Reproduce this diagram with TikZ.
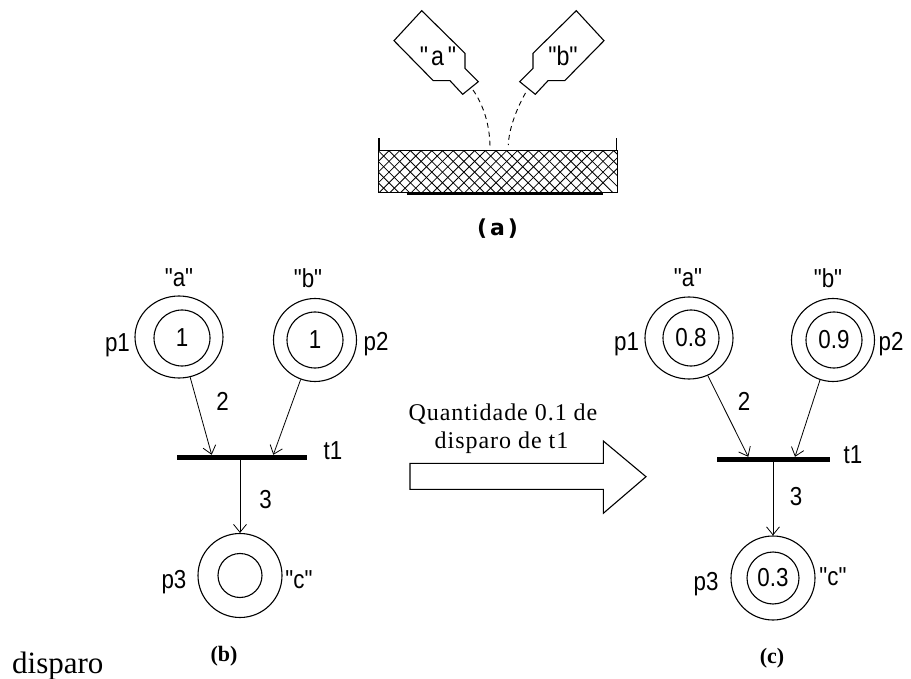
\documentclass[tikz,border=0pt]{standalone}
\usepackage{fontspec}
\setmainfont{Liberation Serif}
\newfontfamily\lbl[FakeStretch=0.86]{Liberation Sans}
\newfontfamily\capafont{DejaVu Sans}
\newfontfamily\serifls[LetterSpace=4]{Liberation Serif}
\usetikzlibrary{arrows.meta,shapes.geometric}
\begin{document}
\begin{tikzpicture}[x=1pt,y=-1pt,
  placebox/.style={circle, draw, line width=1.1pt, minimum size=83pt, inner sep=0pt},
  ovalbox/.style={ellipse, draw, line width=1.1pt, minimum width=88pt, minimum height=82pt, inner sep=0pt},
  tokbox/.style={circle, draw, line width=1.1pt, minimum size=56pt, inner sep=0pt, font=\lbl\fontsize{26}{28}\selectfont},
  barbox/.style={fill=black, draw=none, minimum height=5pt, inner sep=0pt},
  labtxt/.style={font=\lbl\fontsize{26}{28}\selectfont, inner sep=0pt, anchor=base},
  btltxt/.style={font=\lbl\fontsize{27}{29}\selectfont, inner sep=0pt, anchor=base},
  captxt/.style={font=\bfseries\fontsize{22}{24}\selectfont, inner sep=0pt, anchor=base},
  petriarc/.style={-{Straight Barb[length=8pt,width=13pt]}, line width=0.8pt},
  strokeout/.style={line width=1.1pt, line join=miter}
]
\useasboundingbox (0,0) rectangle (911,679);

% ---------------- (a) bottles and basin ----------------
\draw[strokeout] (421.7,10.7) -- (458.3,46.7) -- (465,53.3) -- (465,68.3) -- (478.3,81.7)
  -- (462.7,94.3) -- (450,80.7) -- (433.3,80.7) -- (394,40.7) -- cycle;
\draw[strokeout] (576.3,10.7) -- (539.7,46.7) -- (533,53.3) -- (533,68.3) -- (519.7,81.7)
  -- (535.3,94.3) -- (548,80.7) -- (564.7,80.7) -- (604,40.7) -- cycle;
\node[btltxt] (bla) at (438,66) {"\kern3pt a\kern4pt"};
\node[btltxt] (blb) at (563,66) {"b"};
\draw[dash pattern=on 5pt off 4pt, line width=0.9pt] (473,90) .. controls (484,106) and (490,126) .. (490,148);
\draw[dash pattern=on 5pt off 4pt, line width=0.9pt] (525.5,93) .. controls (517,108) and (509,128) .. (508.3,145);
\begin{scope}
  \clip (378.3,150.7) rectangle (617.3,192.7);
  \foreach \i in {-5,...,24} {
    \draw[line width=0.8pt] (378.3+\i*10.7,150.7) -- ++(42,42);
    \draw[line width=0.8pt] (378.3+\i*10.7,150.7) -- ++(-42,42);
  }
\end{scope}
\draw[strokeout] (378.3,150.7) rectangle (617.3,192.7);
\draw[line width=1.1pt] (379,150.7) -- (379,138);
\draw[line width=1.1pt] (616.6,150.7) -- (616.6,138);
\draw[line width=2.4pt] (406.7,194) -- (603.3,194);
\node[font=\capafont\bfseries\fontsize{22}{24}\selectfont, inner sep=0pt, anchor=base] (capa) at (497.5,236) {(\kern3pt a\kern3pt)};

% ---------------- (b) ----------------
\node[ovalbox] (p1b) at (179,337) {};
\node[tokbox] (p1bi) at (182,338) {1};
\node[placebox] (p2b) at (315,340) {};
\node[tokbox] (p2bi) at (p2b) {1};
\node[barbox, minimum width=129.4pt] (t1b) at (242,457.3) {};
\node[placebox, minimum size=84pt] (p3b) at (240,575.5) {};
\node[tokbox, minimum size=44pt] (p3bi) at (p3b) {};
\coordinate (e1b) at (211.7,454.8);
\coordinate (e2b) at (273.3,454.8);
\draw[petriarc] (p1b) -- (e1b);
\draw[petriarc] (p2b) -- (e2b);
\draw[petriarc] (p3b.north |- t1b.south) -- (p3b.north);
\node[labtxt] (la1b) at (179,287) {"a"};
\node[labtxt] (la2b) at (308,288) {"b"};
\node[labtxt] (lp1b) at (117.5,351.5) {p1};
\node[labtxt] (lp2b) at (376,351) {p2};
\node[labtxt] (lt1b) at (333,459) {t1};
\node[labtxt] (lw1b) at (222.5,410) {2};
\node[labtxt] (lw3b) at (265.5,508) {3};
\node[labtxt] (lp3b) at (174,588) {p3};
\node[labtxt] (lcb) at (299,588) {"c"};
\node[captxt] (capb) at (224,661) {(b)};

% ---------------- arrow ----------------
\draw[strokeout] (410,463.3) -- (603.3,463.3) -- (603.3,441) -- (646,476.7) -- (603.3,513.3)
  -- (603.3,489.3) -- (410,489.3) -- cycle;
\node[font=\serifls\fontsize{24}{27}\selectfont, inner sep=0pt, anchor=base] (q1) at (503,420.5) {Quantidade 0.1 de};
\node[font=\serifls\fontsize{24}{27}\selectfont, inner sep=0pt, anchor=base] (q2) at (501.5,448) {disparo de t1};

% ---------------- (c) ----------------
\node[ovalbox] (p1c) at (689,338) {};
\node[tokbox] (p1ci) at (691,338) {0.8};
\node[placebox] (p2c) at (833,340) {};
\node[tokbox] (p2ci) at (834,340) {0.9};
\node[barbox, minimum width=113.3pt] (t1c) at (773.3,459.3) {};
\node[placebox, minimum size=84pt] (p3c) at (773,578) {};
\node[tokbox, minimum size=52pt] (p3ci) at (p3c) {0.3};
\coordinate (e1c) at (748.3,456.8);
\coordinate (e2c) at (795,456.8);
\draw[petriarc] (p1c) -- (e1c);
\draw[petriarc] (p2c) -- (e2c);
\draw[petriarc] (p3c.north |- t1c.south) -- (p3c.north);
\node[labtxt] (la1c) at (688,287) {"a"};
\node[labtxt] (la2c) at (828,288) {"b"};
\node[labtxt] (lp1c) at (626.5,351) {p1};
\node[labtxt] (lp2c) at (891,351) {p2};
\node[labtxt] (lt1c) at (853,463) {t1};
\node[labtxt] (lw1c) at (744,410) {2};
\node[labtxt] (lw3c) at (796,505) {3};
\node[labtxt] (lp3c) at (706,590) {p3};
\node[labtxt] (lcc) at (833,585) {"c"};
\node[captxt] (capc) at (772,663) {(c)};

% ---------------- stray text ----------------
\node[font=\fontsize{31}{33}\selectfont, inner sep=0pt, anchor=base west] (disp) at (12,673) {disparo};
\end{tikzpicture}
\end{document}
